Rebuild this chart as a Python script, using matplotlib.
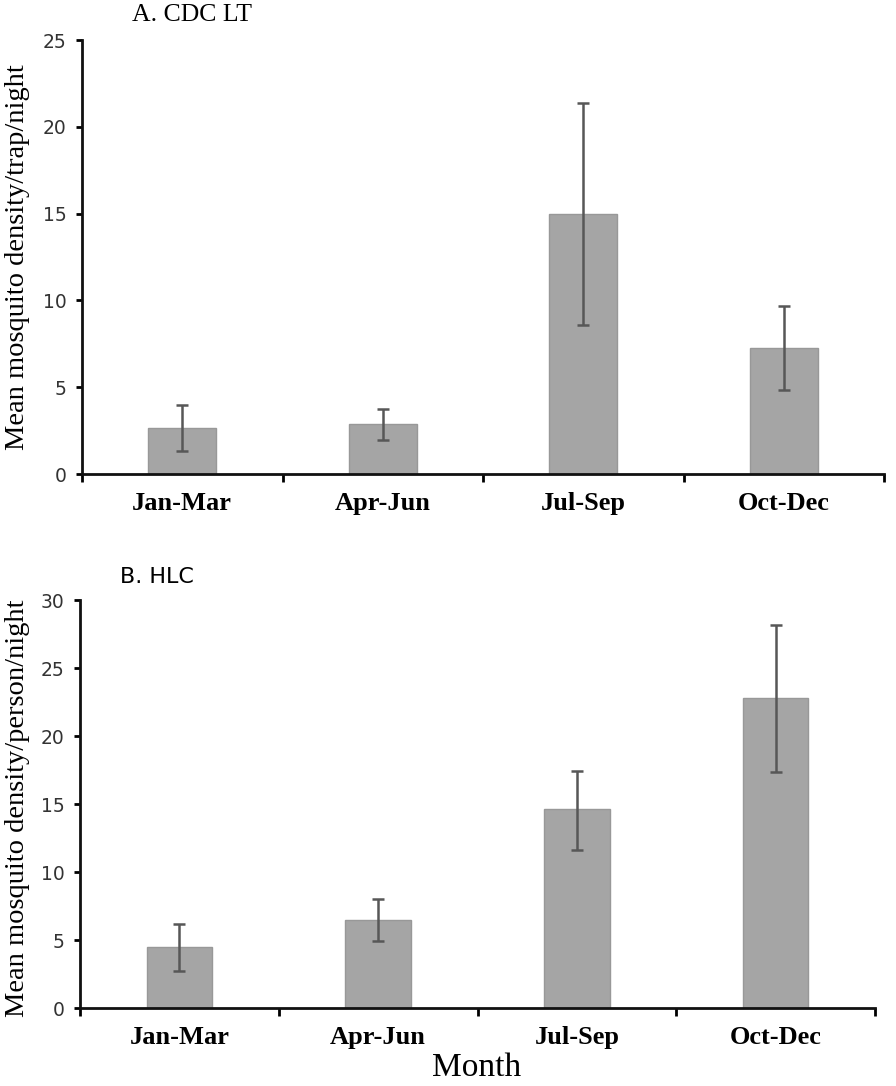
import matplotlib
matplotlib.use("Agg")
import matplotlib.pyplot as plt
import numpy as np

categories = ["Jan-Mar", "Apr-Jun", "Jul-Sep", "Oct-Dec"]

# Panel A: CDC light trap
cdc_mean = [2.65, 2.9, 14.95, 7.25]
cdc_low = [1.35, 1.98, 8.6, 4.85]
cdc_high = [4.0, 3.75, 21.35, 9.68]

# Panel B: human landing catch
hlc_mean = [4.5, 6.5, 14.6, 22.8]
hlc_low = [2.75, 4.9, 11.65, 17.35]
hlc_high = [6.2, 8.0, 17.45, 28.15]

W, H = 896, 1086
fig = plt.figure(figsize=(W / 100, H / 100), dpi=100)

serif = "Liberation Serif"
sans = "DejaVu Sans"

def fx(px):
    return px / W

def fy(py):
    return 1 - py / H

def panel(rect, means, lows, highs, ymax, bw):
    ax = fig.add_axes(rect)
    x = np.arange(len(categories))
    means = np.array(means)
    yerr = np.array([means - np.array(lows), np.array(highs) - means])
    ax.bar(x, means, width=bw, color="#a5a5a5", edgecolor="#989898", linewidth=1.0, zorder=2)
    ax.errorbar(x, means, yerr=yerr, fmt="none", ecolor="#575757", elinewidth=1.8,
                capsize=4.5, capthick=1.8, zorder=3)
    ax.set_xlim(-0.5, len(categories) - 0.5)
    ax.set_ylim(0, ymax)
    ticks = list(range(0, ymax + 1, 5))
    ax.set_yticks(ticks)
    ax.set_yticklabels([str(v) for v in ticks], fontfamily=sans,
                       fontsize=13.5, color="#333333")
    ax.set_xticks(x)
    ax.set_xticklabels(categories, fontfamily=serif, fontweight="bold", fontsize=19)
    ax.set_xticks(np.arange(-0.5, len(categories)), minor=True)
    ax.tick_params(axis="x", which="major", length=0, pad=13)
    ax.tick_params(axis="x", which="minor", length=6, width=2, direction="out")
    ax.tick_params(axis="y", length=4, width=2, direction="out", pad=7)
    for s in ["top", "right"]:
        ax.spines[s].set_visible(False)
    for s in ["left", "bottom"]:
        ax.spines[s].set_linewidth(2)
        ax.spines[s].set_color("#111111")
    return ax

# Panel A
axA = panel([fx(82), fy(474), fx(884) - fx(82), fy(40) - fy(474)],
            cdc_mean, cdc_low, cdc_high, 25, 0.34)
fig.text(fx(18), fy(257), "Mean mosquito density/trap/night", fontfamily=serif,
         fontsize=20.5, rotation=90, ha="center", va="center")
fig.text(fx(132), fy(21), "A. CDC LT", fontfamily=serif, fontsize=18.5,
         ha="left", va="baseline")

# Panel B
axB = panel([fx(80), fy(1008), fx(875) - fx(80), fy(600) - fy(1008)],
            hlc_mean, hlc_low, hlc_high, 30, 0.33)
fig.text(fx(18), fy(808), "Mean mosquito density/person/night", fontfamily=serif,
         fontsize=20.5, rotation=90, ha="center", va="center")
fig.text(fx(120), fy(583), "B. HLC", fontfamily=sans, fontsize=16,
         ha="left", va="baseline")
fig.text(fx(477), fy(1076), "Month", fontfamily=serif, fontsize=24,
         ha="center", va="baseline")

fig.savefig("out.png", dpi=100, facecolor="white")
